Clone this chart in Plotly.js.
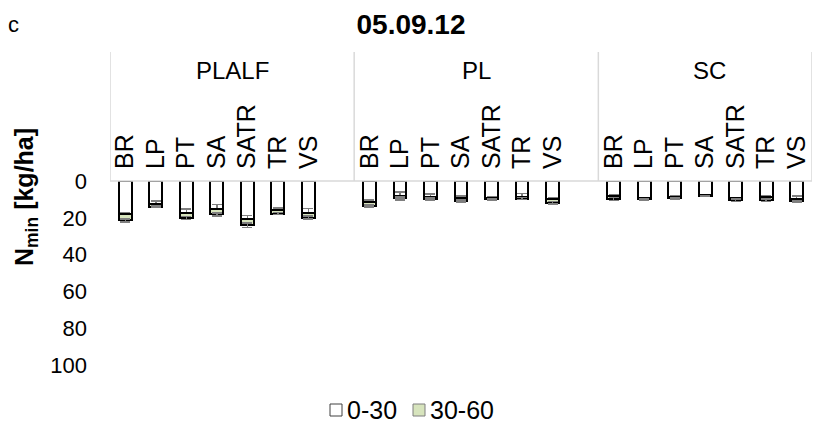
<!DOCTYPE html>
<html>
<head>
<meta charset="utf-8">
<script src="https://cdn.plot.ly/plotly-3.0.1.min.js"></script>
<style>html,body{margin:0;padding:0;background:#fff;}#chart{width:826px;height:432px;}</style>
</head>
<body>
<div id="chart"></div>
<script>
// ---- data ----
var groups = ['PLALF', 'PL', 'SC'];
var categories = ['BR', 'LP', 'PT', 'SA', 'SATR', 'TR', 'VS'];
var seriesNames = ['0-30', '30-60'];
var seriesColors = ['#ffffff', '#d7e4bd'];

// Nmin [kg/ha], 0-30 cm layer, per group (PLALF, PL, SC)
var plalf_0_30 = [17.8, 12.5, 17.5, 15.4, 20.5, 15.5, 17.6];
var pl_0_30    = [11.4, 8.2, 8.7, 9.2, 9.1, 8.5, 9.6];
var sc_0_30    = [8.2, 9.3, 8.5, 7.7, 9.5, 8.5, 9.8];
// 30-60 cm layer
var plalf_30_60 = [3.6, 1.5, 2.7, 2.7, 3.6, 2.2, 2.3];
var pl_30_60    = [2.2, 1.0, 1.1, 1.7, 0.8, 1.1, 2.2];
var sc_30_60    = [1.7, 0.6, 0.9, 0.5, 1.0, 2.0, 1.2];
// error (0-30)
var plalf_err_0_30 = [0.8, 1.6, 2.2, 2.7, 1.8, 0.8, 2.7];
var pl_err_0_30    = [1.0, 2.2, 1.6, 1.0, 0.5, 1.6, 0.6];
var sc_err_0_30    = [1.0, 0.3, 0.4, 0.3, 0.5, 0.4, 1.7];
// error (30-60)
var plalf_err_30_60 = [0.8, 0.5, 0.8, 0.8, 1.3, 0.5, 0.8];
var pl_err_30_60    = [0.6, 0.5, 0.5, 0.6, 0.5, 0.5, 0.6];
var sc_err_30_60    = [0.8, 0.3, 0.3, 0.2, 0.6, 0.6, 0.3];

var yTicks = [0, 20, 40, 60, 80, 100];

// ---- build ----
var slotsPerGroup = categories.length + 1; // one empty slot between groups
var xPos = [], tickText = [];
groups.forEach(function (g, gi) {
  categories.forEach(function (c, ci) {
    xPos.push(gi * slotsPerGroup + ci);
    tickText.push(c);
  });
});
var v030 = plalf_0_30.concat(pl_0_30, sc_0_30);
var v3060 = plalf_30_60.concat(pl_30_60, sc_30_60);
var e030 = plalf_err_0_30.concat(pl_err_0_30, sc_err_0_30);
var e3060 = plalf_err_30_60.concat(pl_err_30_60, sc_err_30_60);

var nSlots = groups.length * slotsPerGroup - 1;
var xMin = -0.5, xMax = nSlots - 0.5;

var W = 826, H = 432;
var M = {l: 110, r: 14, t: 181, b: 67};
var PW = W - M.l - M.r, PH = H - M.t - M.b;
function px(x) { return (x - M.l) / PW; }      // page px -> paper x
function py(y) { return (H - M.b - y) / PH; }  // page px -> paper y

var FONT = 'Liberation Sans, Arial, sans-serif';
var errStyle = {type: 'data', color: '#7f7f7f', thickness: 1.5, width: 5};

var traces = [
  {
    type: 'bar', name: seriesNames[0], x: xPos, y: v030, width: 0.42,
    marker: {color: seriesColors[0], line: {color: '#000000', width: 2}},
    error_y: Object.assign({array: e030}, errStyle),
    hoverinfo: 'skip', showlegend: false
  },
  {
    type: 'bar', name: seriesNames[1], x: xPos, y: v3060, width: 0.42,
    marker: {color: seriesColors[1], line: {color: '#000000', width: 2}},
    error_y: Object.assign({array: e3060}, errStyle),
    hoverinfo: 'skip', showlegend: false
  }
];

var shapes = [];
var bounds = [];
for (var gi = 0; gi <= groups.length; gi++) {
  bounds.push(Math.min(xMin + gi * slotsPerGroup, xMax));
}
bounds.forEach(function (b) {
  shapes.push({type: 'line', xref: 'x', yref: 'paper', x0: b, x1: b, y0: 1, y1: py(52),
    line: {color: '#d9d9d9', width: 1.5}});
});
shapes.push({type: 'line', xref: 'x', yref: 'paper', x0: xMin, x1: xMax, y0: 1, y1: 1,
  line: {color: '#d9d9d9', width: 1.5}});

var annotations = [];
groups.forEach(function (g, gi) {
  var left = bounds[gi], right = (gi === groups.length - 1) ? xMax + 0.5 : bounds[gi + 1];
  annotations.push({text: g, xref: 'x', yref: 'paper', x: (left + right) / 2 - (gi === groups.length - 1 ? 0.1 : 0),
    y: py(70), showarrow: false, font: {family: FONT, size: 24, color: '#000'}, xanchor: 'center', yanchor: 'middle'});
});
annotations.push({text: 'c', xref: 'paper', yref: 'paper', x: px(14), y: py(24), xanchor: 'center', yanchor: 'middle',
  showarrow: false, font: {family: FONT, size: 22, color: '#000'}});
annotations.push({text: '<b>N<sub>min</sub> [kg/ha]</b>', xref: 'paper', yref: 'paper', x: px(26), y: py(197),
  xanchor: 'center', yanchor: 'middle', textangle: -90, showarrow: false, font: {family: FONT, size: 25, color: '#000'}});

// legend (drawn manually to match the tight key/text spacing)
var legendItems = [
  {key: [330, 342], text: 345, outline: '#404040'},
  {key: [413, 425], text: 428, outline: '#7f7f7f'}
];
legendItems.forEach(function (it, i) {
  shapes.push({type: 'rect', xref: 'paper', yref: 'paper', x0: px(it.key[0]), x1: px(it.key[1]),
    y0: py(416), y1: py(404), fillcolor: seriesColors[i], line: {color: it.outline, width: 1}});
  annotations.push({text: seriesNames[i], xref: 'paper', yref: 'paper', x: px(it.text), y: py(410),
    xanchor: 'left', yanchor: 'middle', showarrow: false, font: {family: FONT, size: 25, color: '#000'}});
});

var layout = {
  width: W, height: H,
  margin: {l: M.l, r: M.r, t: M.t, b: M.b, autoexpand: false},
  paper_bgcolor: '#ffffff', plot_bgcolor: '#ffffff',
  title: {text: '<b>05.09.12</b>', x: px(411), xanchor: 'center', xref: 'paper', y: 1 - 24 / H, yref: 'container', yanchor: 'middle',
    font: {family: FONT, size: 28, color: '#000'}},
  barmode: 'stack',
  showlegend: false,
  xaxis: {range: [xMin, xMax], side: 'top', tickmode: 'array', tickvals: xPos, ticktext: tickText,
    tickangle: -90, tickfont: {family: FONT, size: 25, color: '#000'}, showgrid: false, zeroline: false,
    showline: false, ticks: '', ticklabelstandoff: 11, fixedrange: true, automargin: false},
  yaxis: {range: [100, 0], tickmode: 'array', tickvals: yTicks, tickfont: {family: FONT, size: 22, color: '#000'},
    showgrid: false, zeroline: false, showline: false, ticks: '', ticklabelstandoff: 22, fixedrange: true, automargin: false},
  shapes: shapes,
  annotations: annotations
};

Plotly.newPlot('chart', traces, layout, {displayModeBar: false, staticPlot: true});
</script>
</body>
</html>
